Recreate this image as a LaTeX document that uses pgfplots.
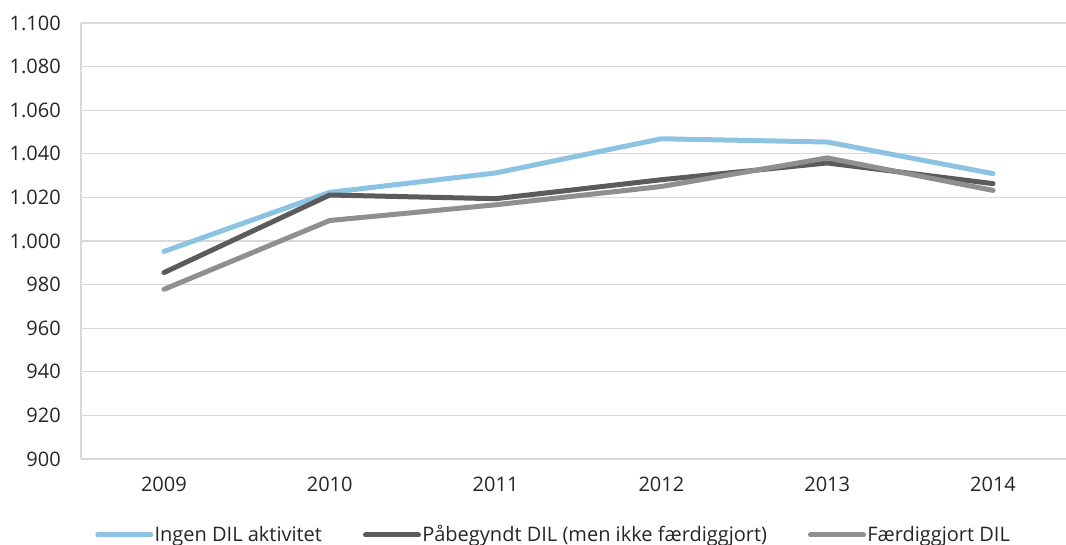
\documentclass[border=0pt]{standalone}
\usepackage{fontspec}
\setmainfont{Open Sans}
\usepackage{pgfplots}
\pgfplotsset{compat=1.18}
\usepackage{pgfplotstable}
\definecolor{cBlue}{HTML}{8DC3E2}
\definecolor{cDark}{HTML}{5B5B5B}
\definecolor{cMid}{HTML}{8F8F8F}
\definecolor{cGrid}{HTML}{D9D9D9}
\pgfplotstableread{
x Ingen Pab Faerd
0 995.2 985.5 977.8
1 1022.3 1021.1 1009.4
2 1031.2 1019.4 1016.6
3 1046.9 1028.1 1025.0
4 1045.4 1035.8 1038.1
5 1030.9 1026.3 1023.2
}\datatable
\begin{document}
\fontsize{15}{18}\selectfont
\begin{tikzpicture}
\useasboundingbox (0,0) rectangle (799.5pt,408.75pt);
\begin{axis}[
  at={(60.75pt,64.5pt)}, anchor=south west,
  scale only axis, width=738.75pt, height=327pt,
  xmin=-0.5, xmax=5.44, ymin=900, ymax=1100,
  ytick={900,920,...,1100},
  xtick={0,1,2,3,4,5},
  xticklabels={2009,2010,2011,2012,2013,2014},
  scaled y ticks=false,
  /pgf/number format/1000 sep={.},
  /pgf/number format/assume math mode=true,
  axis x line=bottom, axis y line=left,
  axis line style={draw=cGrid, line width=1pt, -},
  ymajorgrids, grid style={draw=cGrid, line width=1pt},
  major tick length=0pt,
  tick label style={font=\fontsize{15}{18}\selectfont, text=black!85},
  yticklabel style={xshift=-10pt},
  xticklabel style={yshift=-8pt},
  legend columns=3,
  legend style={at={(axis description cs:0.0142,-0.1743)}, anchor=west, draw=none, fill=none,
    inner sep=0pt, font=\fontsize{15}{18}\selectfont, text=black!85,
    nodes={inner sep=1pt},
    /tikz/every even column/.append style={column sep=29.75pt}},
  legend image code/.code={\draw[#1, line width=3.75pt, line cap=round] (1.5pt,0pt) -- (41.25pt,0pt);},
  every axis plot/.append style={line width=3.75pt, line cap=round, line join=round},
]
\addplot[cBlue] table[x=x, y=Ingen] {\datatable};
\addlegendentry{Ingen DIL aktivitet}
\addplot[cDark] table[x=x, y=Pab] {\datatable};
\addlegendentry{Påbegyndt DIL (men ikke færdiggjort)}
\addplot[cMid] table[x=x, y=Faerd] {\datatable};
\addlegendentry{Færdiggjort DIL}
\end{axis}
\end{tikzpicture}
\end{document}
